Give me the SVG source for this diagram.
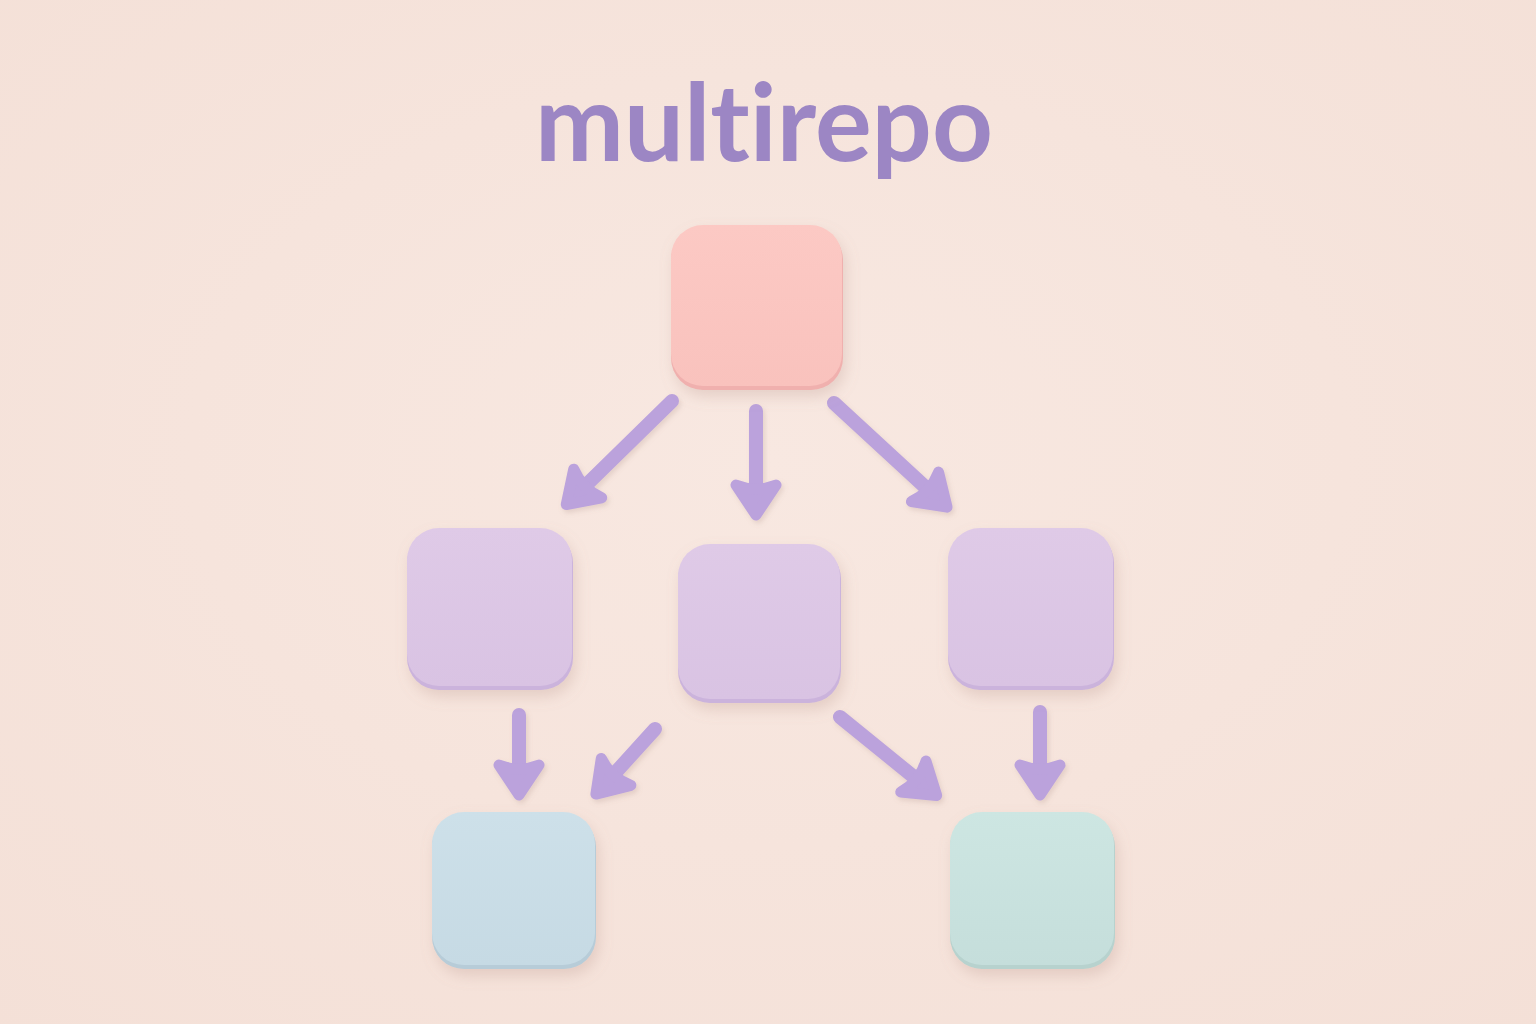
<svg xmlns="http://www.w3.org/2000/svg" width="1536" height="1024" viewBox="0 0 1536 1024">
  <defs>
    <style>
      .title { font-family: "Lato", "Open Sans", sans-serif; font-weight: 700; font-size: 107px; fill: #9c86c4; font-variant-ligatures: none; font-feature-settings: "liga" 0, "clig" 0; }
      .conn { stroke: #bba2dc; stroke-width: 14; stroke-linecap: round; fill: none; }
    </style>
    <radialGradient id="bg" cx="50%" cy="45%" r="75%">
      <stop offset="0" stop-color="#f8e8e1"/>
      <stop offset="1" stop-color="#f4e0d7"/>
    </radialGradient>
    <linearGradient id="gPink" x1="0" y1="0" x2="0" y2="1">
      <stop offset="0" stop-color="#fcc9c4"/>
      <stop offset="1" stop-color="#f9c2bd"/>
    </linearGradient>
    <linearGradient id="gLilac" x1="0" y1="0" x2="0" y2="1">
      <stop offset="0" stop-color="#dfcae7"/>
      <stop offset="1" stop-color="#d9c3e3"/>
    </linearGradient>
    <linearGradient id="gBlue" x1="0" y1="0" x2="0" y2="1">
      <stop offset="0" stop-color="#cde0e9"/>
      <stop offset="1" stop-color="#c6dae4"/>
    </linearGradient>
    <linearGradient id="gMint" x1="0" y1="0" x2="0" y2="1">
      <stop offset="0" stop-color="#cde6e2"/>
      <stop offset="1" stop-color="#c5dedb"/>
    </linearGradient>
    <filter id="shadow" x="-20%" y="-20%" width="140%" height="150%">
      <feGaussianBlur in="SourceAlpha" stdDeviation="7"/>
      <feOffset dx="3" dy="7" result="b"/>
      <feFlood flood-color="#b08a80" flood-opacity="0.26"/>
      <feComposite in2="b" operator="in" result="s"/>
      <feMerge><feMergeNode in="s"/><feMergeNode in="SourceGraphic"/></feMerge>
    </filter>
    <filter id="ashadow" x="-30%" y="-30%" width="160%" height="160%">
      <feGaussianBlur in="SourceAlpha" stdDeviation="2.5"/>
      <feOffset dx="1.5" dy="3" result="b"/>
      <feFlood flood-color="#a08078" flood-opacity="0.22"/>
      <feComposite in2="b" operator="in" result="s"/>
      <feMerge><feMergeNode in="s"/><feMergeNode in="SourceGraphic"/></feMerge>
    </filter>
    <marker id="head" viewBox="-30 -30 60 60" markerWidth="60" markerHeight="60" markerUnits="userSpaceOnUse" refX="0" refY="0" orient="auto">
      <path d="M-15,-20 L15,0 L-15,20 Q-7,0 -15,-20 Z" fill="#bba2dc" stroke="#bba2dc" stroke-width="11" stroke-linejoin="round"/>
    </marker>
  </defs>

  <rect width="1536" height="1024" fill="url(#bg)"/>

  <text class="title" x="764" y="161" text-anchor="middle" textLength="458" lengthAdjust="spacingAndGlyphs">multirepo</text>

  <g id="connectors" filter="url(#ashadow)">
    <line class="conn" x1="672" y1="401" x2="577" y2="494" marker-end="url(#head)"/>
    <line class="conn" x1="756" y1="411" x2="756" y2="500" marker-end="url(#head)"/>
    <line class="conn" x1="834" y1="403" x2="936" y2="497" marker-end="url(#head)"/>
    <line class="conn" x1="519" y1="715" x2="519" y2="780" marker-end="url(#head)"/>
    <line class="conn" x1="655" y1="729" x2="606" y2="783" marker-end="url(#head)"/>
    <line class="conn" x1="840" y1="717" x2="925" y2="786" marker-end="url(#head)"/>
    <line class="conn" x1="1040" y1="712" x2="1040" y2="780" marker-end="url(#head)"/>
  </g>

  <g id="node-root" filter="url(#shadow)">
    <rect x="671" y="228" width="172" height="162" rx="32" fill="#f0b0ae"/>
    <rect x="671" y="225" width="171" height="161" rx="32" fill="url(#gPink)"/>
  </g>

  <g id="node-mid-left" filter="url(#shadow)">
    <rect x="407" y="531" width="166" height="159" rx="32" fill="#cbb3dc"/>
    <rect x="407" y="528" width="165" height="158" rx="32" fill="url(#gLilac)"/>
  </g>

  <g id="node-mid-center" filter="url(#shadow)">
    <rect x="678" y="547" width="163" height="156" rx="32" fill="#cbb3dc"/>
    <rect x="678" y="544" width="162" height="155" rx="32" fill="url(#gLilac)"/>
  </g>

  <g id="node-mid-right" filter="url(#shadow)">
    <rect x="948" y="531" width="166" height="159" rx="32" fill="#cbb3dc"/>
    <rect x="948" y="528" width="165" height="158" rx="32" fill="url(#gLilac)"/>
  </g>

  <g id="node-bottom-left" filter="url(#shadow)">
    <rect x="432" y="815" width="164" height="154" rx="32" fill="#b7ccd8"/>
    <rect x="432" y="812" width="163" height="153" rx="32" fill="url(#gBlue)"/>
  </g>

  <g id="node-bottom-right" filter="url(#shadow)">
    <rect x="950" y="815" width="165" height="154" rx="32" fill="#b7d2ce"/>
    <rect x="950" y="812" width="164" height="153" rx="32" fill="url(#gMint)"/>
  </g>
</svg>
